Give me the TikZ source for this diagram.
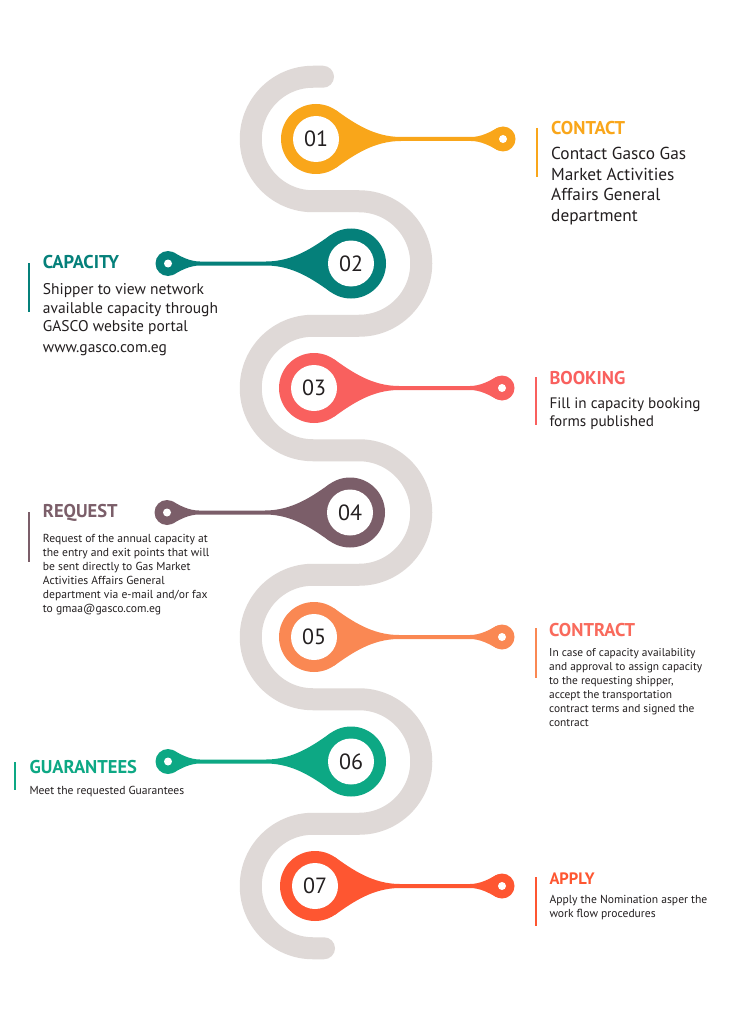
\documentclass[tikz,border=0pt]{standalone}
\usepackage{fontspec}
\setmainfont{PT Sans}
\definecolor{snakegrey}{HTML}{DFD9D7}
\definecolor{cA}{HTML}{F9A61A}
\definecolor{cB}{HTML}{05807A}
\definecolor{cC}{HTML}{F9605E}
\definecolor{cD}{HTML}{7B5E69}
\definecolor{cE}{HTML}{FA8853}
\definecolor{cEt}{HTML}{F96A5C}
\definecolor{cF}{HTML}{0DA884}
\definecolor{cG}{HTML}{FE5631}
\definecolor{ink}{HTML}{231F20}
\newcommand\drawpin[5]{%
\begin{scope}[shift={(#1,#2)},xscale=#3]
\fill[#5] (0,0) circle (35);
\fill[#5] (#4,0) circle (12.5);
\fill[#5] (20.1,28.7) .. controls (38,16) and (58,2) .. (85,2) -- ({#4-32},2) .. controls ({#4-22},2) and ({#4-13},6.8) .. ({#4-6.25},10.83) -- (#4,0) -- ({#4-6.25},-10.83) .. controls ({#4-13},-6.8) and ({#4-22},-2) .. ({#4-32},-2) -- (85,-2) .. controls (58,-2) and (38,-16) .. (20.1,-28.7) -- (0,0) -- cycle;
\fill[white] (0,0) circle (23);
\fill[white] (#4,0) circle (4);
\end{scope}}
\tikzset{
  numtxt/.style={font=\fontsize{22}{24}\selectfont, text=ink, inner sep=0},
  ttl/.style={font=\fontsize{18.5}{20}\selectfont\bfseries, anchor=base west, inner sep=0},
  bodyL/.style={font=\fontsize{16}{20.5}\selectfont, text=ink, anchor=base west, inner sep=0, align=left},
  bodyS/.style={font=\fontsize{12}{14}\selectfont, text=ink, anchor=base west, inner sep=0, align=left},
  bar/.style={line width=2pt},
  snake/.style={draw=snakegrey, line width=22pt, line cap=round}
}
\begin{document}
\begin{tikzpicture}[x=1pt,y=1pt]
\useasboundingbox (0,0) rectangle (736,-1024);
\fill[white] (0,0) rectangle (736,-1024);
% snake
\draw[snake] (323,-76.75) -- (313,-76.75) arc (90:270:62.25) -- (359,-201.25) arc (90:-90:62.25)
  -- (313,-325.75) arc (90:270:62.25) -- (359,-450.25) arc (90:-90:62.25)
  -- (313,-574.75) arc (90:270:62.25) -- (359,-699.25) arc (90:-90:62.25)
  -- (313,-823.75) arc (90:270:62.25) -- (324,-948.25);
% pins
\drawpin{316}{-139}{1}{187}{cA}
\drawpin{351}{-263.5}{-1}{183}{cB}
\drawpin{314}{-388}{1}{188}{cC}
\drawpin{350}{-512.5}{-1}{183}{cD}
\drawpin{314}{-637}{1}{188}{cE}
\drawpin{351}{-761.5}{-1}{183}{cF}
\drawpin{315}{-886}{1}{187}{cG}
\node[numtxt] (n1) at (316,-139) {01};
\node[numtxt] (n2) at (351,-263.5) {02};
\node[numtxt] (n3) at (314,-388) {03};
\node[numtxt] (n4) at (350,-512.5) {04};
\node[numtxt] (n5) at (314,-637) {05};
\node[numtxt] (n6) at (351,-761.5) {06};
\node[numtxt] (n7) at (315,-886) {07};
% 1 contact
\draw[bar, cA] (537,-128) -- (537,-177);
\node[ttl, text=cA] (t1) at (551,-135) {CONTACT};
\node[bodyL, font=\fontsize{17.3}{20.5}\selectfont] (b1) at (551,-221.5) {Contact Gasco Gas\\Market Activities\\Affairs General\\department};
% 2 capacity
\draw[bar, cB] (28.5,-263) -- (28.5,-312);
\node[ttl, text=cB] (t2) at (42.7,-268) {CAPACITY};
\node[bodyL, font=\fontsize{15.5}{18.7}\selectfont] (b2) at (42.7,-352.4) {Shipper to view network\\available capacity through\\GASCO website portal\\[2pt]www.gasco.com.eg};
% 3 booking
\draw[bar, cC] (536,-377) -- (536,-425);
\node[ttl, text=cC] (t3) at (549.3,-384) {BOOKING};
\node[bodyL, font=\fontsize{15.2}{18}\selectfont] (b3) at (549.3,-426.3) {Fill in capacity booking\\forms published};
% 4 request
\draw[bar, cD] (29,-512) -- (29,-562);
\node[ttl, text=cD] (t4) at (42.7,-517.3) {REQUEST};
\node[bodyS, font=\fontsize{11.6}{14}\selectfont] (b4) at (42.7,-612) {Request of the annual capacity at\\the entry and exit points that will\\be sent directly to Gas Market\\Activities Affairs General\\department via e-mail and/or fax\\to gmaa@gasco.com.eg};
% 5 contract
\draw[bar, cE] (536,-628) -- (536,-678);
\node[ttl, text=cEt] (t5) at (549,-636.7) {CONTRACT};
\node[bodyS, font=\fontsize{11.4}{14.1}\selectfont] (b5) at (549,-726.5) {In case of capacity availability\\and approval to assign capacity\\to the requesting shipper,\\accept the transportation\\contract terms and signed the\\contract};
% 6 guarantees
\draw[bar, cF] (14.5,-762) -- (14.5,-790);
\node[ttl, text=cF] (t6) at (29.3,-773.3) {GUARANTEES};
\node[bodyS, font=\fontsize{11.6}{14}\selectfont] (b6) at (29.3,-794) {Meet the requested Guarantees};
% 7 apply
\draw[bar, cG] (536,-877) -- (536,-926);
\node[ttl, text=cG, font=\fontsize{16.5}{18}\selectfont\bfseries] (t7) at (549.3,-884) {APPLY};
\node[bodyS, font=\fontsize{11.6}{14}\selectfont] (b7) at (549.3,-917.3) {Apply the Nomination asper the\\work flow procedures};
\end{tikzpicture}
\end{document}
